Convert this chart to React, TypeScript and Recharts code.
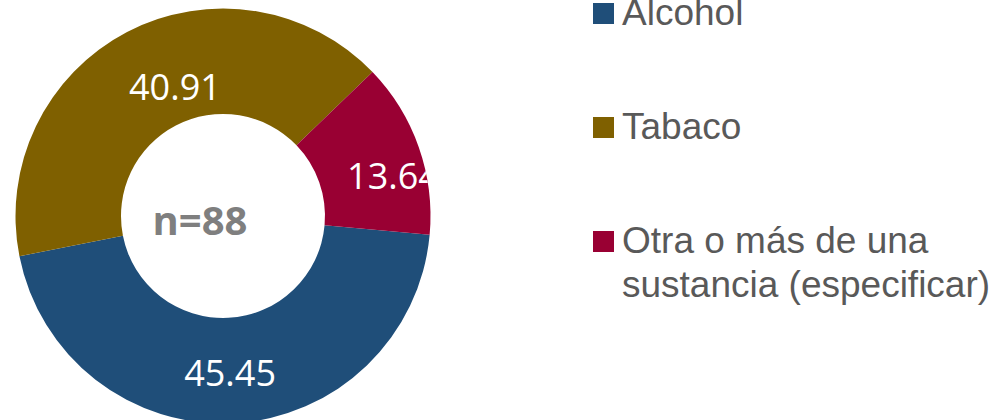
import React from "react";
import { PieChart, Pie, Cell, Label } from "recharts";

const categories = ["Alcohol", "Tabaco", "Otra o más de una sustancia (especificar)"];
const values = [45.45, 40.91, 13.64];
const valueLabels = ["45.45", "40.91", "13.64"];
const colors = ["#1F4E79", "#7F6000", "#990033"];
const sampleLabel = "n=88";

const data = categories.map((name, i) => ({ name, value: values[i], label: valueLabels[i] }));

// manual label nudges (as placed in the original slide)
const labelShift: [number, number][] = [
  [-1, 2.5],
  [23.5, 8.5],
  [24, 11.5],
];

const W = 993;
const H = 420;
const CX = 223;
const CY = 216;

const renderLabel = (props: any) => {
  const { cx, cy, midAngle, innerRadius, outerRadius, index } = props;
  const RAD = Math.PI / 180;
  const r = (innerRadius + outerRadius) / 2;
  const x = cx + r * Math.cos(-midAngle * RAD) + labelShift[index][0];
  const y = cy + r * Math.sin(-midAngle * RAD) + labelShift[index][1];
  const id = `clip-lbl-${index}`;
  return (
    <g key={id}>
      <defs>
        <clipPath id={id}>
          <circle cx={cx} cy={cy} r={outerRadius} />
        </clipPath>
      </defs>
      <text
        x={x}
        y={y + 12.5}
        textAnchor="middle"
        fill="#ffffff"
        fontFamily="'Open Sans', 'Noto Sans', sans-serif"
        fontSize={36}
        clipPath={`url(#${id})`}
      >
        {data[index].label}
      </text>
    </g>
  );
};

const LegendBox = () => (
  <div style={{ position: "absolute", left: 593, top: -9, width: 400 }}>
    {categories.map((name, i) => (
      <div
        key={name}
        style={{
          position: "relative",
          paddingLeft: 29,
          marginBottom: 70,
          fontFamily: "'Liberation Sans', Arial, sans-serif",
          fontSize: 37,
          lineHeight: "44px",
          color: "#595959",
          width: 371,
        }}
      >
        <span
          style={{
            position: "absolute",
            left: 0,
            top: 12,
            width: 20.5,
            height: 20.5,
            background: colors[i],
          }}
        />
        {name}
      </div>
    ))}
  </div>
);

export default function App() {
  return (
    <div
      style={{
        position: "absolute",
        left: 0,
        top: 0,
        width: W,
        height: H,
        overflow: "hidden",
        background: "#ffffff",
      }}
    >
      <PieChart width={W} height={H} margin={{ top: 0, right: 0, bottom: 0, left: 0 }}>
        <Pie
          data={data}
          dataKey="value"
          nameKey="name"
          cx={CX}
          cy={CY}
          innerRadius={102}
          outerRadius={207.5}
          startAngle={-5.2}
          endAngle={-365.2}
          stroke="none"
          labelLine={false}
          label={renderLabel}
          isAnimationActive={false}
        >
          {data.map((d, i) => (
            <Cell key={d.name} fill={colors[i]} />
          ))}
          <Label
            position="center"
            content={(p: any) => {
              const vb = p.viewBox || {};
              return (
                <text
                  x={(vb.cx ?? CX) - 23}
                  y={(vb.cy ?? CY) + 19}
                  textAnchor="middle"
                  fill="#7F7F7F"
                  fontWeight="bold"
                  fontFamily="'Open Sans', 'Noto Sans', sans-serif"
                  fontSize={40}
                >
                  {sampleLabel}
                </text>
              );
            }}
          />
        </Pie>
      </PieChart>
      <LegendBox />
    </div>
  );
}
